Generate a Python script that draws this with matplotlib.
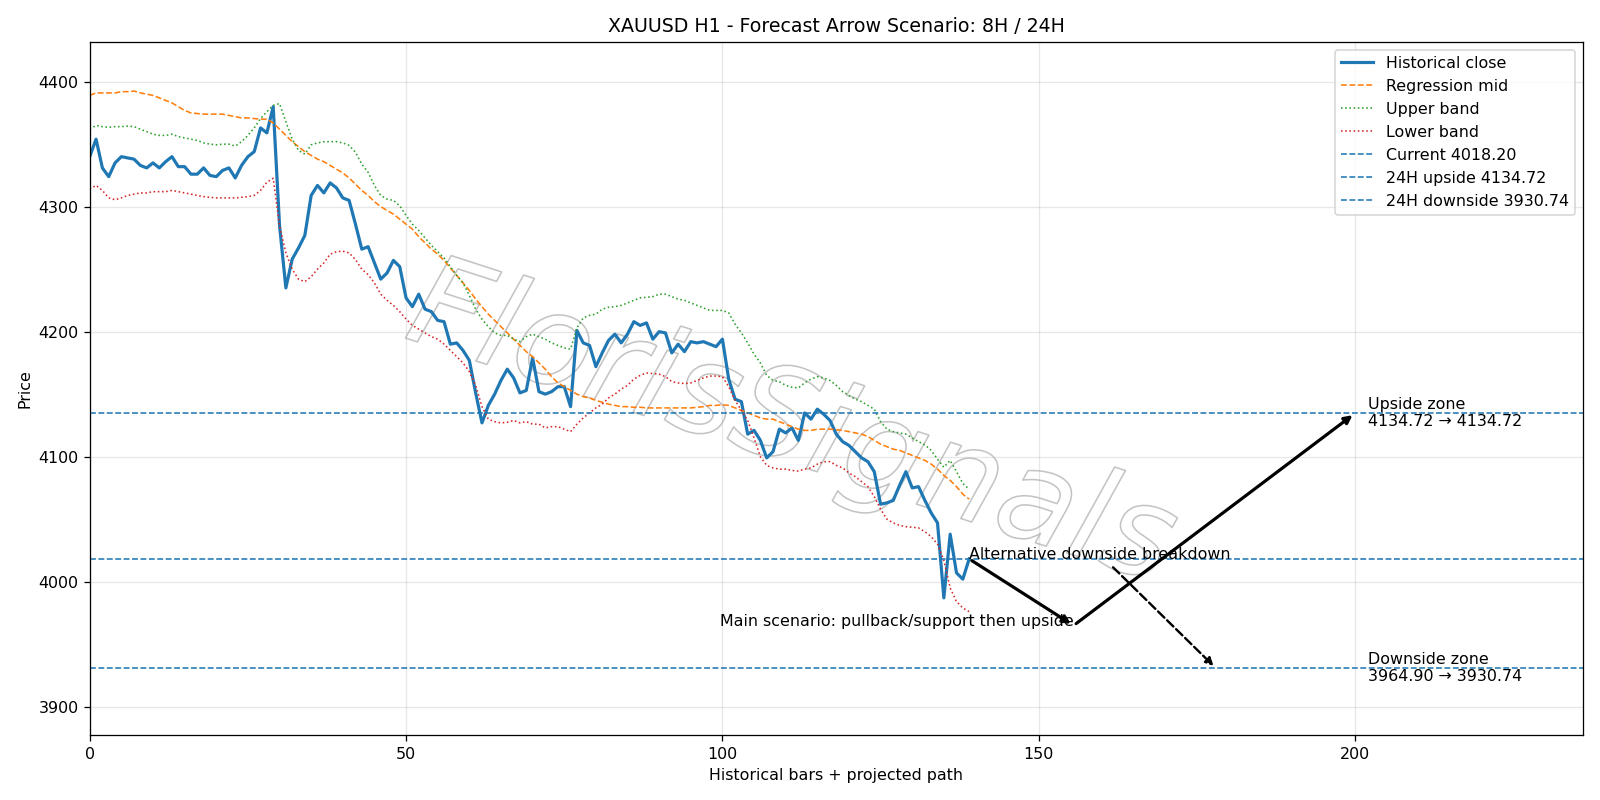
import matplotlib.pyplot as plt
import matplotlib.patheffects as pe
import numpy as np

# historical close (H1 bars 0..139)
close = [4340, 4354, 4331, 4324, 4335, 4340, 4339, 4338, 4333, 4331,
         4335, 4331, 4336, 4340, 4332, 4332, 4326, 4326, 4331, 4325,
         4324, 4329, 4331, 4323, 4333, 4340, 4344, 4363, 4359, 4380,
         4285, 4235, 4258, 4267, 4277, 4309, 4317, 4311, 4319, 4315,
         4307, 4305, 4286, 4266, 4268, 4255, 4242, 4247, 4257, 4252,
         4227, 4220, 4230, 4218, 4216, 4209, 4208, 4190, 4191, 4185,
         4177, 4151, 4127, 4141, 4150, 4161, 4170, 4163, 4151, 4153,
         4179, 4152, 4150, 4152, 4156, 4156, 4140, 4201, 4191, 4189,
         4172, 4183, 4193, 4198, 4191, 4198, 4208, 4205, 4207, 4194,
         4200, 4199, 4183, 4190, 4184, 4192, 4191, 4192, 4190, 4188,
         4194, 4162, 4146, 4144, 4118, 4121, 4113, 4099, 4104, 4122,
         4119, 4123, 4113, 4135, 4130, 4138, 4134, 4129, 4118, 4112,
         4109, 4104, 4099, 4096, 4088, 4062, 4063, 4065, 4077, 4088,
         4075, 4076, 4065, 4055, 4047, 3987, 4038, 4007, 4002, 4018.2]

reg_mid = [4389, 4391, 4391, 4391, 4391, 4392, 4392, 4392.5, 4391, 4390,
           4389, 4387, 4385, 4383, 4380, 4377, 4375, 4374.5, 4374, 4374,
           4374, 4374, 4373, 4372, 4371, 4371, 4370.5, 4370, 4370, 4367,
           4362, 4357, 4352, 4348, 4344, 4341, 4338, 4336, 4333, 4330,
           4327, 4323, 4318, 4313, 4309, 4304, 4300, 4297, 4294, 4290,
           4286, 4282, 4276, 4271, 4266, 4262, 4257, 4251, 4245, 4239,
           4233, 4226, 4220, 4214, 4209, 4204, 4199, 4194, 4189, 4184,
           4180, 4175, 4170, 4164, 4159, 4156, 4153, 4150, 4148, 4147,
           4145, 4143.5, 4142, 4141, 4140, 4140, 4139.5, 4139.5, 4139, 4139,
           4139, 4139, 4139, 4139, 4139, 4139, 4139.5, 4140, 4141, 4141,
           4141.5, 4141, 4139, 4137, 4135, 4133, 4131, 4130, 4130, 4128,
           4126, 4124, 4122, 4121, 4121, 4122, 4122, 4122, 4121.5, 4121,
           4120, 4119, 4118, 4116, 4113, 4110, 4108, 4106, 4105, 4103,
           4101, 4099, 4097, 4094, 4090, 4085, 4081, 4076, 4070, 4066]

upper = [4362, 4365, 4364, 4363.5, 4364, 4364, 4364.5, 4364, 4362, 4360,
         4358, 4357, 4357, 4358, 4356, 4355, 4354, 4353, 4351, 4350,
         4349.5, 4350, 4350, 4348.5, 4352, 4357, 4363, 4370.5, 4376, 4381,
         4382.5, 4368, 4354, 4345, 4342, 4349.5, 4351, 4352, 4352, 4352,
         4351, 4349, 4343.6, 4334, 4327.5, 4317, 4309, 4306, 4305, 4300.7,
         4293, 4286, 4281, 4275, 4269, 4264, 4259, 4252, 4245, 4239,
         4229, 4218, 4210, 4204, 4199, 4197, 4197, 4194, 4192, 4196,
         4198, 4196, 4194, 4191, 4189, 4187, 4186, 4203, 4211, 4213,
         4214, 4218, 4219.5, 4220, 4221, 4223, 4225, 4227, 4227.5, 4228,
         4230, 4230, 4228, 4226, 4225, 4223, 4221, 4219, 4217, 4217,
         4217, 4215, 4206, 4199, 4191, 4182, 4175, 4165, 4161, 4160,
         4157, 4155.5, 4155, 4159, 4162, 4164, 4163, 4161, 4157, 4152,
         4149, 4146, 4144, 4141, 4138, 4128, 4122, 4120, 4119, 4118,
         4115, 4112, 4109.5, 4105, 4098, 4091.5, 4097, 4088, 4078.5, 4074]

lower = [4314, 4317, 4313, 4307, 4305.5, 4307, 4309, 4310, 4311, 4311,
         4312, 4312, 4312, 4313, 4312, 4311, 4310, 4309, 4308, 4307.5,
         4307, 4307, 4307, 4307, 4307.5, 4308, 4309, 4313, 4319.5, 4322.7,
         4284.6, 4263, 4250, 4242, 4240, 4244, 4250, 4255, 4262, 4264,
         4264.4, 4263, 4257.7, 4250, 4245.6, 4239, 4230, 4225, 4221, 4216,
         4210, 4205, 4202, 4199, 4196, 4194, 4190, 4185, 4180, 4175,
         4168, 4157, 4140, 4130, 4128, 4127, 4127.5, 4129, 4127, 4128,
         4126, 4126, 4123, 4124, 4124, 4122, 4120, 4126, 4131, 4135,
         4139, 4142, 4147, 4150, 4154, 4157, 4162, 4165, 4167, 4166.5,
         4166, 4164, 4160, 4159, 4158.5, 4159, 4161, 4163, 4164.5, 4164.5,
         4164, 4156, 4145, 4137, 4129, 4115, 4100, 4093, 4091, 4090,
         4090, 4089, 4088.5, 4090, 4091, 4094, 4096, 4096, 4093, 4091,
         4087, 4084, 4080, 4076, 4068, 4058, 4050, 4047, 4045, 4044,
         4043.5, 4043, 4040, 4036, 4030, 4017, 3995, 3984, 3979, 3976]

current = 4018.20
up_24h = 4134.72
dn_8h = 3964.90
dn_24h = 3930.74
x_8h = 155.5
x_24h = 200
x_alt = 178

x = np.arange(len(close))

fig, ax = plt.subplots(figsize=(14, 7), dpi=1600 / 14)

ax.plot(x, close, color='#1f77b4', lw=2, label='Historical close')
ax.plot(x, reg_mid, color='#ff7f0e', ls='--', lw=1, label='Regression mid')
ax.plot(x, upper, color='#2ca02c', ls=':', lw=1, label='Upper band')
ax.plot(x, lower, color='#d62728', ls=':', lw=1, label='Lower band')

ax.axhline(current, color='#1f77b4', ls='--', lw=1, label=f'Current {current:.2f}')
ax.axhline(up_24h, color='#1f77b4', ls='--', lw=1, label=f'24H upside {up_24h:.2f}')
ax.axhline(dn_24h, color='#1f77b4', ls='--', lw=1, label=f'24H downside {dn_24h:.2f}')

last = len(close) - 1
# main path: pullback then upside
ax.annotate('', xy=(x_8h, dn_8h), xytext=(last, current),
            arrowprops=dict(arrowstyle='-|>', lw=2, color='black'))
ax.annotate('', xy=(x_24h, up_24h), xytext=(x_8h, dn_8h),
            arrowprops=dict(arrowstyle='-|>', lw=2, color='black'))
ax.text(x_8h, dn_8h, 'Main scenario: pullback/support then upside', ha='right')
# alternative path
ax.annotate('Alternative downside breakdown', xy=(x_alt, dn_24h), xytext=(last, current),
            arrowprops=dict(arrowstyle='-|>', lw=1.5, ls='--', color='black'))

ax.text(x_24h + 2, up_24h, f'Upside zone\n{up_24h:.2f} \u2192 {up_24h:.2f}', va='center')
ax.text(x_24h + 2, dn_24h, f'Downside zone\n{dn_8h:.2f} \u2192 {dn_24h:.2f}', va='center')

# watermark
ax.text(0.47, 0.445, 'FlorisSignals', transform=ax.transAxes, fontsize=80,
        fontstyle='italic', rotation=-18, ha='center', va='center',
        color=(1, 1, 1, 0), zorder=1,
        path_effects=[pe.Stroke(linewidth=1.0, foreground='#c4c4c4')])

ax.set_xlim(0, 236)
ax.set_ylim(3877, 4432)
ax.grid(alpha=0.3)
ax.set_title('XAUUSD H1 - Forecast Arrow Scenario: 8H / 24H')
ax.set_xlabel('Historical bars + projected path')
ax.set_ylabel('Price')
ax.legend(loc='upper right')
fig.tight_layout()
fig.savefig('out.png')
